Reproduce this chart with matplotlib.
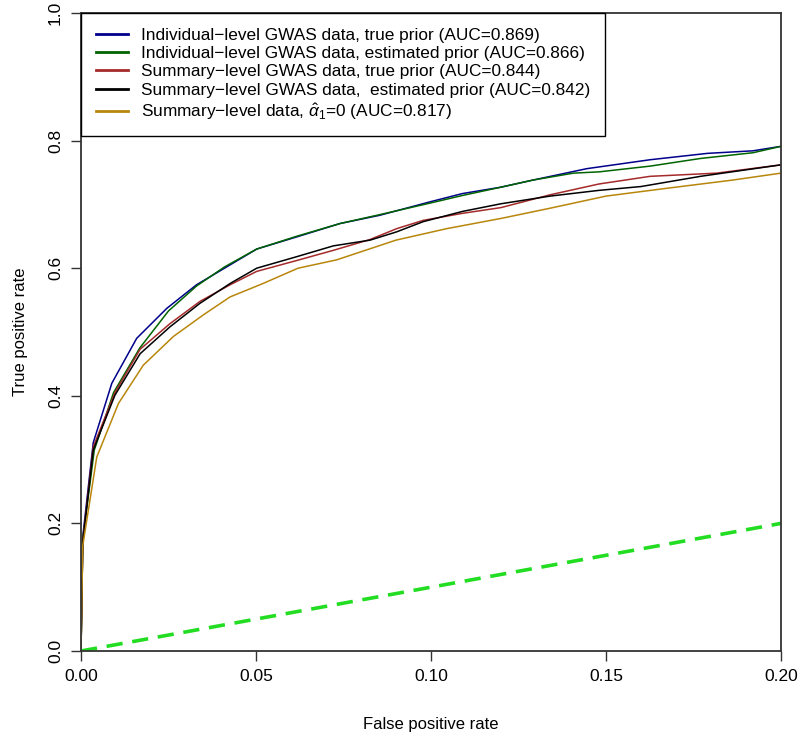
import matplotlib
matplotlib.use("Agg")
import matplotlib.pyplot as plt
from matplotlib.lines import Line2D

plt.rcParams['font.family'] = ['Liberation Sans', 'DejaVu Sans']
plt.rcParams['mathtext.fontset'] = 'custom'
plt.rcParams['mathtext.rm'] = 'Liberation Sans'
plt.rcParams['mathtext.it'] = 'Liberation Sans:italic'

# ROC curves
fpr_ind_true = [0, 0.0005, 0.0035, 0.0088, 0.0159, 0.0245, 0.033, 0.041, 0.0502, 0.0616, 0.074,
                0.0854, 0.0997, 0.109, 0.12, 0.129, 0.1445, 0.1626, 0.179, 0.192, 0.2]
tpr_ind_true = [0, 0.179, 0.3265, 0.4196, 0.490, 0.537, 0.574, 0.600, 0.630, 0.649, 0.670,
                0.683, 0.704, 0.717, 0.727, 0.738, 0.756, 0.770, 0.780, 0.784, 0.791]

fpr_ind_est = [0, 0.0005, 0.0038, 0.0093, 0.0168, 0.025, 0.033, 0.041, 0.0502, 0.0616, 0.074,
               0.0854, 0.0997, 0.109, 0.12, 0.129, 0.1407, 0.148, 0.1626, 0.177, 0.192, 0.2]
tpr_ind_est = [0, 0.175, 0.315, 0.405, 0.475, 0.533, 0.572, 0.602, 0.630, 0.650, 0.670,
               0.684, 0.702, 0.714, 0.727, 0.738, 0.749, 0.751, 0.760, 0.772, 0.781, 0.791]

fpr_sum_true = [0, 0.0005, 0.0035, 0.0097, 0.0169, 0.0254, 0.034, 0.0426, 0.0502, 0.0616, 0.0721,
                0.0826, 0.0902, 0.0978, 0.109, 0.12, 0.134, 0.148, 0.1626, 0.1816, 0.2]
tpr_sum_true = [0, 0.172, 0.32, 0.405, 0.473, 0.513, 0.548, 0.574, 0.595, 0.612, 0.628,
                0.645, 0.662, 0.675, 0.686, 0.695, 0.715, 0.732, 0.744, 0.749, 0.762]

fpr_sum_est = [0, 0.0005, 0.0035, 0.0097, 0.0169, 0.0254, 0.034, 0.0426, 0.0502, 0.0616, 0.0721,
               0.0826, 0.0902, 0.0978, 0.109, 0.12, 0.134, 0.148, 0.160, 0.177, 0.2]
tpr_sum_est = [0, 0.17, 0.315, 0.401, 0.466, 0.508, 0.545, 0.576, 0.600, 0.618, 0.635,
               0.644, 0.657, 0.673, 0.689, 0.701, 0.713, 0.722, 0.728, 0.744, 0.762]

fpr_sum_a0 = [0, 0.0005, 0.0045, 0.0107, 0.0178, 0.0264, 0.035, 0.0426, 0.052, 0.062, 0.073,
              0.090, 0.1045, 0.12, 0.134, 0.15, 0.167, 0.186, 0.2]
tpr_sum_a0 = [0, 0.165, 0.304, 0.388, 0.448, 0.493, 0.527, 0.555, 0.576, 0.600, 0.613,
              0.644, 0.662, 0.678, 0.694, 0.713, 0.725, 0.738, 0.749]

fpr_diag = [0, 0.2]
tpr_diag = [0, 0.2]

labels = ["Individual\u2212level GWAS data, true prior (AUC=0.869)",
          "Individual\u2212level GWAS data, estimated prior (AUC=0.866)",
          "Summary\u2212level GWAS data, true prior (AUC=0.844)",
          "Summary\u2212level GWAS data,  estimated prior (AUC=0.842)",
          "Summary\u2212level data, $\\hat{\\alpha}_1$=0 (AUC=0.817)"]
colors = ["#00008B", "#006400", "#A52A2A", "black", "#B8860B"]

fig = plt.figure(figsize=(8, 7.37), dpi=100)
ax = fig.add_axes([81/800, 1 - 651/737, 700/800, 638/737])

curves = [(fpr_ind_true, tpr_ind_true), (fpr_ind_est, tpr_ind_est),
          (fpr_sum_true, tpr_sum_true), (fpr_sum_est, tpr_sum_est),
          (fpr_sum_a0, tpr_sum_a0)]
for (x, y), c in zip(curves, colors):
    ax.plot(x, y, color=c, lw=1.1)

ax.plot(fpr_diag, tpr_diag, color="#22dd22", lw=2.6, ls=(0, (4.5, 2.7)))

ax.set_xlim(0, 0.2)
ax.set_ylim(0, 1)
ax.set_xticks([0, 0.05, 0.10, 0.15, 0.20])
ax.set_xticklabels(["0.00", "0.05", "0.10", "0.15", "0.20"])
ax.set_yticks([0, 0.2, 0.4, 0.6, 0.8, 1.0])
ax.set_yticklabels(["0.0", "0.2", "0.4", "0.6", "0.8", "1.0"], rotation=90, va="center")
ax.tick_params(direction="out", length=7, width=1, labelsize=12.5, pad=6, color="#333333")
for s in ax.spines.values():
    s.set_color("#333333")
    s.set_linewidth(1.3)

ax.set_xlabel("False positive rate", fontsize=12, labelpad=24)
ax.set_ylabel("True positive rate", fontsize=12, labelpad=14)

handles = [Line2D([], [], color=c, lw=2) for c in colors]
leg = ax.legend(handles, labels, loc="upper left", borderaxespad=0, fontsize=12.4,
                fancybox=False, framealpha=1, edgecolor="black", handlelength=1.85,
                handletextpad=0.8, labelspacing=0.19, borderpad=0.85)
leg.get_frame().set_linewidth(1.0)

fig.savefig("out.png", dpi=100)
